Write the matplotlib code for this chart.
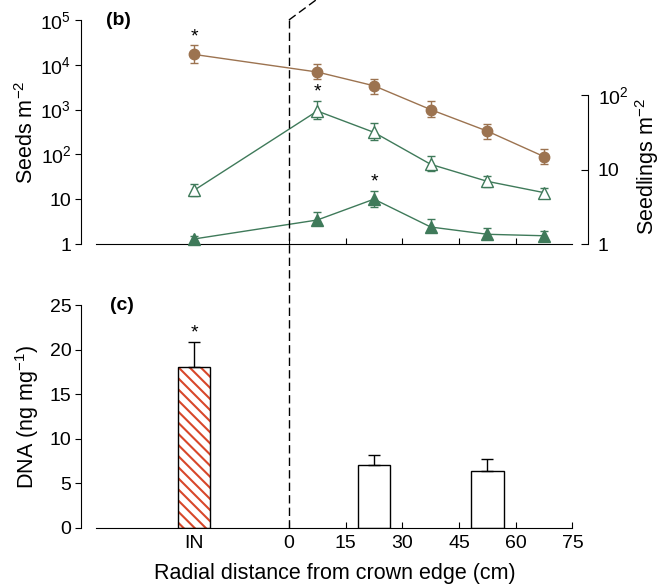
import matplotlib
matplotlib.use("Agg")
import matplotlib.pyplot as plt
import matplotlib.transforms as mtrans
from matplotlib.ticker import FixedLocator, FixedFormatter, NullLocator

plt.rcParams['font.family'] = ['Liberation Sans', 'DejaVu Sans']
plt.rcParams['mathtext.fontset'] = 'custom'
plt.rcParams['mathtext.rm'] = 'Liberation Sans'
plt.rcParams['mathtext.it'] = 'Liberation Sans:italic'
plt.rcParams['hatch.linewidth'] = 1.5

# ---- data ----
dist = [-25, 7.5, 22.5, 37.5, 52.5, 67.5]        # -25 = IN (under crown)
seeds_a = [17000, 6900, 3400, 1000, 330, 89]
seeds_a_hi = [27500, 10200, 4900, 1550, 480, 132]
seeds_a_lo = [11200, 4800, 2240, 680, 220, 62]
seeds_b = [16, 930, 310, 60, 25, 14]
seeds_b_hi = [22, 1580, 490, 91, 33, 18]
seeds_b_lo = [12, 620, 210, 43, 19, 11.5]
seedlings = [1.17, 2.1, 4.0, 1.69, 1.35, 1.29]
seedlings_hi = [1.3, 2.7, 5.2, 2.14, 1.64, 1.51]
seedlings_lo = [1.05, 1.78, 3.16, 1.44, 1.17, 1.15]

bar_x = [-25, 22.5, 52.5]
dna = [18.0, 7.1, 6.4]
dna_err = [2.8, 1.1, 1.35]

xtick_pos = [-25, 0, 15, 30, 45, 60, 75]
xtick_lab = ['IN', '0', '15', '30', '45', '60', '75']

brown = '#9c7350'
green = '#3f7a5a'
red = '#d8472a'

TICK_FS = 14
LAB_FS = 15.5

W, H = 671, 585
fig = plt.figure(figsize=(W / 100, H / 100), dpi=100)

def px_axes(l, t, r, b):
    return fig.add_axes([l / W, 1 - b / H, (r - l) / W, (b - t) / H])

XLIM = (-55.0, 79.1)
ax = px_axes(81, 20, 588, 244)
ax2 = ax.twinx()
axc = px_axes(81, 305, 588, 528)

def yerr(v, lo, hi):
    return [[a - b for a, b in zip(v, lo)], [b - a for a, b in zip(v, hi)]]

# ---- panel (b) ----
ax.set_yscale('log')
ax.set_ylim(1, 1e5)
ax.set_xlim(*XLIM)
ax.errorbar(dist, seeds_a, yerr=yerr(seeds_a, seeds_a_lo, seeds_a_hi), color=brown,
            marker='o', ms=7.5, lw=1, capsize=3, elinewidth=1, capthick=1, clip_on=False)
ax.errorbar(dist, seeds_b, yerr=yerr(seeds_b, seeds_b_lo, seeds_b_hi), color=green,
            marker='^', ms=8.5, mfc='white', mew=1, lw=1, capsize=3, elinewidth=1,
            capthick=1, clip_on=False)
ax.yaxis.set_major_locator(FixedLocator([1, 10, 1e2, 1e3, 1e4, 1e5]))
ax.yaxis.set_major_formatter(FixedFormatter(['1', '10', '$10^2$', '$10^3$', '$10^4$', '$10^5$']))
ax.yaxis.set_minor_locator(NullLocator())
ax.set_xticks([0, 15, 30, 45, 60])
ax.tick_params(axis='x', direction='in', length=4, labelbottom=False)
ax.tick_params(axis='y', direction='out', length=4, pad=3, labelsize=TICK_FS)
for s in ['top', 'right']:
    ax.spines[s].set_visible(False)
ax.spines['bottom'].set_bounds(-51, 75)
ax.set_ylabel('Seeds m$^{-2}$', fontsize=LAB_FS, labelpad=2)
ax.text(0.05, 1.0, '(b)', transform=ax.transAxes, fontsize=14, fontweight='bold',
        va='center', ha='left')

ax2.set_yscale('log')
ax2.set_ylim(1, 10 ** 3.007)
ax2.errorbar(dist, seedlings, yerr=yerr(seedlings, seedlings_lo, seedlings_hi), color=green,
             marker='^', ms=8.5, lw=1, capsize=3, elinewidth=1, capthick=1, clip_on=False)
ax2.yaxis.set_major_locator(FixedLocator([1, 10, 100]))
ax2.yaxis.set_major_formatter(FixedFormatter(['1', '10', '$10^2$']))
ax2.yaxis.set_minor_locator(NullLocator())
ax2.tick_params(axis='y', direction='in', length=5, pad=7, labelsize=TICK_FS)
for s in ['top', 'left', 'bottom']:
    ax2.spines[s].set_visible(False)
ax2.spines['right'].set_bounds(1, 100)
ax2.set_ylabel('Seedlings m$^{-2}$', fontsize=LAB_FS)
ax2.yaxis.set_label_coords(1.088, 0.344)

# significance stars
ax.annotate('*', (dist[0], seeds_a_hi[0]), xytext=(0, 0), textcoords='offset points',
            ha='center', va='bottom', fontsize=14)
ax.annotate('*', (dist[1], seeds_b_hi[1]), xytext=(0, 0), textcoords='offset points',
            ha='center', va='bottom', fontsize=14)
ax2.annotate('*', (dist[2], seedlings_hi[2]), xytext=(0, 0), textcoords='offset points',
             ha='center', va='bottom', fontsize=14)

# ---- panel (c) ----
axc.set_xlim(*XLIM)
axc.set_ylim(0, 25)
axc.bar(bar_x[0], dna[0], width=8.5, color='white', edgecolor=red, hatch='\\\\\\', lw=0)
axc.bar(bar_x, dna, width=8.5, fill=False, edgecolor='black', lw=1,
        yerr=[[0] * len(dna), dna_err], capsize=4,
        error_kw=dict(elinewidth=1, capthick=1, ecolor='black'))
axc.annotate('*', (bar_x[0], dna[0] + dna_err[0]), xytext=(0, 1), textcoords='offset points',
             ha='center', va='bottom', fontsize=14)
axc.set_yticks([0, 5, 10, 15, 20, 25])
axc.set_xticks(xtick_pos, xtick_lab)
axc.tick_params(axis='x', direction='in', length=4, pad=5, labelsize=TICK_FS)
axc.tick_params(axis='y', direction='out', length=4, pad=3, labelsize=TICK_FS)
axc.xaxis.get_major_ticks()[0].tick1line.set_visible(False)
for s in ['top', 'right']:
    axc.spines[s].set_visible(False)
axc.spines['bottom'].set_bounds(-51, 75)
axc.set_ylabel('DNA (ng mg$^{-1}$)', fontsize=LAB_FS, labelpad=6)
axc.set_xlabel('Radial distance from crown edge (cm)', fontsize=LAB_FS, labelpad=8)
axc.text(0.057, 1.0, '(c)', transform=axc.transAxes, fontsize=14, fontweight='bold',
         va='center', ha='left')

# crown edge: dashed line through both panels, kinked at the top
dash = (0, (6, 3))
axc.plot([0, 0], [0, (528 - 20) / 223], transform=mtrans.blended_transform_factory(
    axc.transData, axc.transAxes), color='black', lw=1, ls=dash, clip_on=False)
ax.plot([0, 10], [1, 1.125], transform=mtrans.blended_transform_factory(
    ax.transData, ax.transAxes), color='black', lw=1, ls=dash, clip_on=False)

fig.savefig('out.png', dpi=100)
